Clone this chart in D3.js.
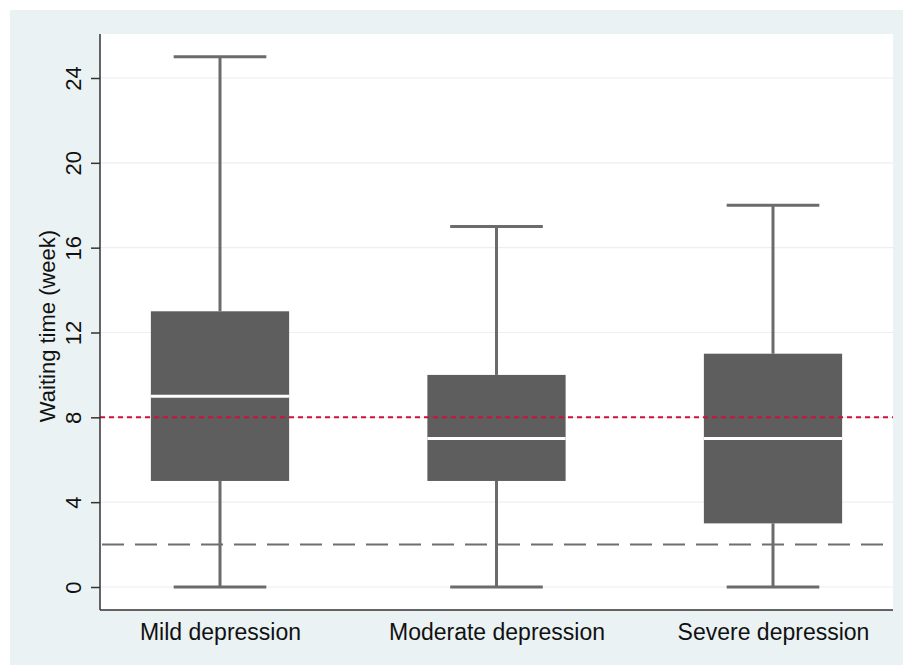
<!DOCTYPE html>
<html><head><meta charset="utf-8">
<script src="https://cdn.jsdelivr.net/npm/d3@7"></script>
<style>body{margin:0;background:#fff}svg{display:block}</style>
</head><body>
<svg id="c" width="903" height="665"></svg>
<script>
const categories = ["Mild depression", "Moderate depression", "Severe depression"];
const mins = [0, 0, 0];
const q1s = [5, 5, 3];
const medians = [9, 7, 7];
const q3s = [13, 10, 11];
const maxs = [25, 17, 18];
const yTicks = [0, 4, 8, 12, 16, 20, 24];
const refRed = 8;
const refGray = 2;

const FONT = "Arial, 'Liberation Sans', sans-serif";
const svg = d3.select("#c");
const W = 903, H = 665;
const L = 100, R = 893, T = 34, B = 610;
svg.append("rect").attr("x", 10).attr("y", 10).attr("width", W - 10).attr("height", H - 10).attr("fill", "#eaf2f3");
svg.append("rect").attr("x", L).attr("y", T).attr("width", R - L).attr("height", B - T).attr("fill", "#fff");

const y = d3.scaleLinear().domain([0, 24]).range([587, 78]);
const x = d3.scalePoint().domain(categories).range([L, R]).padding(0.434);
const bw = x.step() * 0.5;
const cap = x.step() * 0.335;

// gridlines
svg.append("g").selectAll("line").data(yTicks).join("line")
  .attr("x1", L).attr("x2", R).attr("y1", d => y(d)).attr("y2", d => y(d))
  .attr("stroke", "#eaf0f2").attr("stroke-width", 1.2);

const data = categories.map((c, i) => ({c, min: mins[i], q1: q1s[i], med: medians[i], q3: q3s[i], max: maxs[i]}));
const g = svg.append("g");
data.forEach(d => {
  const cx = x(d.c);
  g.append("line").attr("x1", cx).attr("x2", cx).attr("y1", y(d.max)).attr("y2", y(d.q3)).attr("stroke", "#6b6b6b").attr("stroke-width", 3);
  g.append("line").attr("x1", cx).attr("x2", cx).attr("y1", y(d.q1)).attr("y2", y(d.min)).attr("stroke", "#6b6b6b").attr("stroke-width", 3);
  g.append("line").attr("x1", cx - cap / 2).attr("x2", cx + cap / 2).attr("y1", y(d.max)).attr("y2", y(d.max)).attr("stroke", "#6b6b6b").attr("stroke-width", 3);
  g.append("line").attr("x1", cx - cap / 2).attr("x2", cx + cap / 2).attr("y1", y(d.min)).attr("y2", y(d.min)).attr("stroke", "#6b6b6b").attr("stroke-width", 3);
});

// reference lines
svg.append("line").attr("x1", L).attr("x2", R).attr("y1", y(refGray)).attr("y2", y(refGray))
  .attr("stroke", "#6e6e6e").attr("stroke-width", 2).attr("stroke-dasharray", "22,11").attr("stroke-dashoffset", -2);
svg.append("line").attr("x1", L).attr("x2", R).attr("y1", y(refRed)).attr("y2", y(refRed))
  .attr("stroke", "#d0103a").attr("stroke-width", 2).attr("stroke-dasharray", "5,4");

data.forEach(d => {
  const cx = x(d.c);
  g.append("rect").attr("x", cx - bw / 2).attr("width", bw).attr("y", y(d.q3)).attr("height", y(d.q1) - y(d.q3)).attr("fill", "#5e5e5e");
  g.append("line").attr("x1", cx - bw / 2).attr("x2", cx + bw / 2).attr("y1", y(d.med)).attr("y2", y(d.med)).attr("stroke", "#fff").attr("stroke-width", 3);
});

// axes
const ya = svg.append("g").attr("transform", `translate(${L},0)`)
  .call(d3.axisLeft(y).tickValues(yTicks).tickSize(9).tickFormat(d3.format("d")));
ya.select(".domain").attr("d", `M0,${T}V${B}`).attr("stroke", "#333").attr("stroke-width", 1.5);
ya.selectAll(".tick line").attr("stroke", "#333").attr("stroke-width", 1.5);
ya.selectAll(".tick text").attr("font-family", FONT).attr("font-size", 22).attr("fill", "#111")
  .attr("text-anchor", "middle").attr("x", 0).attr("y", 0).attr("dy", "0.35em")
  .attr("transform", "translate(-27,0) rotate(-90)");

const xa = svg.append("g").attr("transform", `translate(0,${B})`)
  .call(d3.axisBottom(x).tickSize(0).tickPadding(14));
xa.select(".domain").attr("d", `M${L},0H${R}`).attr("stroke", "#333").attr("stroke-width", 1.5);
xa.selectAll(".tick text").attr("font-family", FONT).attr("font-size", 23).attr("fill", "#111");

svg.append("text").attr("transform", `translate(55,326) rotate(-90)`)
  .attr("text-anchor", "middle").attr("font-family", FONT).attr("font-size", 22).attr("fill", "#111")
  .text("Waiting time (week)");
</script>
</body></html>
